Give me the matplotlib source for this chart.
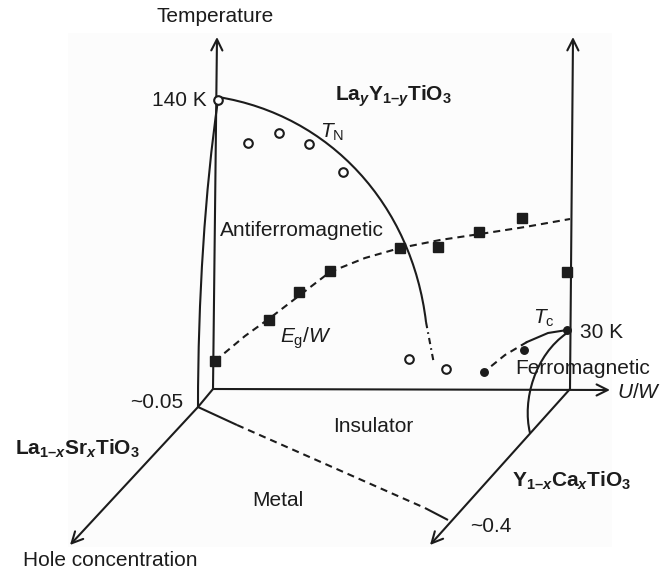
import matplotlib
matplotlib.use("Agg")
import matplotlib.pyplot as plt
from matplotlib.path import Path
from matplotlib.patches import PathPatch, Rectangle

plt.rcParams["font.family"] = ["Liberation Sans", "DejaVu Sans"]
plt.rcParams["mathtext.fontset"] = "custom"
plt.rcParams["mathtext.rm"] = "Liberation Sans"
plt.rcParams["mathtext.it"] = "Liberation Sans:italic"
plt.rcParams["mathtext.bf"] = "Liberation Sans:bold"
plt.rcParams["mathtext.bfit"] = "Liberation Sans:bold:italic"

INK = "#1c1c1c"
LW = 1.5

# ---- schematic phase diagram, diagram coordinates (x right, y down) ----
# axes frame
origin_inner = (213, 389)
origin_outer = (198, 407)
temp_axis_top = (217, 37)
right_axis_base = (570, 389)
right_axis_top = (573, 37)
uw_axis_tip = (610, 390)
hole_axis_tip = (70, 545)
ycato_axis_tip = (430, 545)

# La_yY_(1-y)TiO3 Neel temperature data (open circles)
tn_x = [218, 248, 279, 309, 343, 409, 446]
tn_y = [100, 143, 133, 144, 172, 359, 369]

# Mott-Hubbard gap E_g/W data (filled squares)
eg_x = [215, 269, 299, 330, 400, 438, 479, 522, 567]
eg_y = [361, 320, 292, 271, 248, 247, 232, 218, 272]

# guide line through the gap data
eg_line_x = [215, 245, 270, 300, 330, 365, 400, 440, 480, 525, 570]
eg_line_y = [361, 336, 318, 295, 272, 258, 248, 240, 234, 227, 219]

# Curie temperature data of Y_(1-x)Ca_xTiO3 (filled dots)
tc_x = [567, 524, 484]
tc_y = [330, 350, 372]

fig = plt.figure(figsize=(6.61, 5.71), dpi=100)
ax = fig.add_axes([0, 0, 1, 1])
ax.set_xlim(0, 661)
ax.set_ylim(571, 0)
ax.axis("off")

ax.add_patch(Rectangle((68, 33), 544, 514, facecolor="#fcfcfc",
                       edgecolor="none", zorder=0))


def seg(p, q, **kw):
    ax.plot([p[0], q[0]], [p[1], q[1]], color=INK, lw=LW,
            solid_capstyle="butt", **kw)


def arrow(start, tip):
    ax.annotate("", xy=tip, xytext=start,
                arrowprops=dict(arrowstyle="->,head_length=0.8,head_width=0.4",
                                color=INK, lw=LW, shrinkA=0, shrinkB=0))


def bezier(pts, **kw):
    codes = [Path.MOVETO] + [Path.CURVE4] * (len(pts) - 1)
    ax.add_patch(PathPatch(Path(pts, codes), facecolor="none",
                           edgecolor=INK, lw=LW, **kw))


# axes
arrow(origin_inner, temp_axis_top)
arrow(right_axis_base, right_axis_top)
arrow(origin_inner, uw_axis_tip)
arrow(origin_outer, hole_axis_tip)
arrow(right_axis_base, ycato_axis_tip)
seg(origin_outer, origin_inner)

# outer edge of the T_N surface down to the hole-concentration axis
bezier([(218, 100), (205, 190), (198, 300), (198, 407)])

# metal-insulator boundary in the hole-concentration plane
seg(origin_outer, (237, 425))
ax.plot([237, 425], [425, 508], color=INK, lw=LW, linestyle=(0, (3.4, 2.4)))
seg((425, 508), (448, 520))

# T_N line
bezier([(218, 97), (330, 115), (412, 205), (426, 322)])
ax.plot([426, 430, 434], [322, 343, 364], color=INK, lw=LW,
        linestyle=(0, (3.0, 2.0, 0.8, 2.0)))

# E_g/W guide
ax.plot(eg_line_x, eg_line_y, color=INK, lw=LW, linestyle=(0, (3.4, 2.4)))

# T_c line and ferromagnetic boundary
ax.plot([567, 548, 527], [330, 333, 342], color=INK, lw=LW)
ax.plot([527, 505, 484], [342, 355, 372], color=INK, lw=LW,
        linestyle=(0, (3.4, 2.4)))
bezier([(567, 333), (535, 355), (522, 400), (530, 433)])

# data markers
ax.plot(tn_x, tn_y, "o", ms=6.2, mfc="white", mec=INK, mew=1.5, zorder=5)
ax.plot(eg_x, eg_y, "s", ms=6.8, color=INK, zorder=5)
ax.plot(tc_x, tc_y, "o", ms=5.4, color=INK, zorder=5)

# labels
FS = 15
txt = dict(color=INK, fontsize=FS)
ax.text(215, 17, "Temperature", ha="center", va="center", **txt)
ax.text(207, 100, "140 K", ha="right", va="center", **txt)
ax.text(335, 96, r"$\mathbf{La}_{\mathbfit{y}}\mathbf{Y}_{\mathbf{1–}\mathbfit{y}}\mathbf{TiO}_{\mathbf{3}}$",
        ha="left", va="center", **txt)
ax.text(320, 132, r"$T_{\mathrm{N}}$", ha="left", va="center", **txt)
ax.text(220, 230, "Antiferromagnetic", ha="left", va="center", **txt)
ax.text(280, 338, r"$E_{\mathrm{g}}/W$", ha="left", va="center", **txt)
ax.text(533, 318, r"$T_{\mathrm{c}}$", ha="left", va="center", **txt)
ax.text(580, 333, "30 K", ha="left", va="center", **txt)
ax.text(515, 368, "Ferromagnetic", ha="left", va="center", **txt)
ax.text(617, 392, r"$U/W$", ha="left", va="center", **txt)
ax.text(183, 403, "~0.05", ha="right", va="center", **txt)
ax.text(333, 427, "Insulator", ha="left", va="center", **txt)
ax.text(15, 449, r"$\mathbf{La}_{\mathbf{1–}\mathbfit{x}}\mathbf{Sr}_{\mathbfit{x}}\mathbf{TiO}_{\mathbf{3}}$",
        ha="left", va="center", **txt)
ax.text(252, 500, "Metal", ha="left", va="center", **txt)
ax.text(512, 481, r"$\mathbf{Y}_{\mathbf{1–}\mathbfit{x}}\mathbf{Ca}_{\mathbfit{x}}\mathbf{TiO}_{\mathbf{3}}$",
        ha="left", va="center", **txt)
ax.text(470, 527, "~0.4", ha="left", va="center", **txt)
ax.text(23, 560, "Hole concentration", ha="left", va="center", **txt)

fig.savefig("out.png", dpi=100)
